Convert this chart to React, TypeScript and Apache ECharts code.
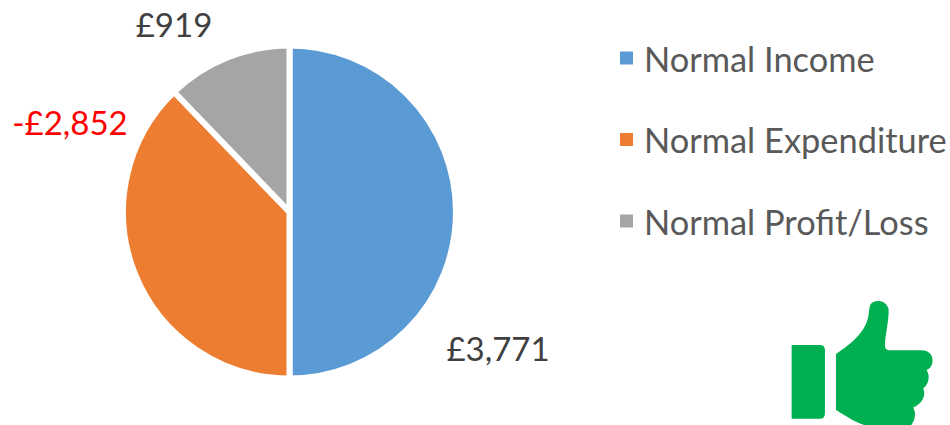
import React, { useEffect, useRef } from "react";
import * as echarts from "echarts";

const categories = ["Normal Income", "Normal Expenditure", "Normal Profit/Loss"];
const values = [3771, 2852, 919];
const labels = ["£3,771", "-£2,852", "£919"];
const colors = ["#5B9BD5", "#ED7D31", "#A5A5A5"];
const labelColors = ["#404040", "#FF0000", "#404040"];
const labelCenters = [[498, 348], [70, 122], [174, 24]];

const FONT = "Lato, Carlito, Calibri, sans-serif";
const HAND =
  "M198 207 C240 178 285 145 295 95 C299 75 298 60 305 55 C318 42 350 46 356 72 C358 100 348 140 345 178 C345 192 350 196 362 196 L455 196 C478 196 490 212 488 230 C487 245 478 252 470 256 C480 268 480 295 460 311 C468 325 462 355 430 368 C440 385 436 410 420 425 L300 425 C270 420 230 395 198 375 Z";
const CUFF =
  "M65 180 L150 180 C160 180 165 186 165 195 L165 387 C165 396 160 402 150 402 L65 402 Z";

echarts.graphic.registerShape("thumbHand", echarts.graphic.extendPath(HAND, {}) as any);
echarts.graphic.registerShape("thumbCuff", echarts.graphic.extendPath(CUFF, {}) as any);

export default function App() {
  const ref = useRef<HTMLDivElement>(null);
  useEffect(() => {
    document.body.style.margin = "0";
    const chart = echarts.init(ref.current!, undefined, { renderer: "svg" });
    chart.setOption({
      animation: false,
      backgroundColor: "#ffffff",
      textStyle: { fontFamily: FONT },
      legend: {
        orient: "vertical",
        left: 613,
        top: 28,
        icon: "rect",
        itemWidth: 15,
        itemHeight: 15,
        itemGap: 31.5,
        data: categories,
        textStyle: { fontSize: 34.4, color: "#595959", fontFamily: FONT, padding: [0, 0, 0, 5], lineHeight: 50 },
      },
      series: [
        {
          type: "pie",
          center: [289.5, 212],
          radius: [0, 166.5],
          startAngle: 90,
          clockwise: true,
          avoidLabelOverlap: false,
          itemStyle: { borderColor: "#ffffff", borderWidth: 6 },
          labelLine: { show: false },
          label: { show: true, position: "outside", fontFamily: FONT, fontSize: 33 },
          labelLayout: (params: any) => ({
            x: labelCenters[params.dataIndex][0],
            y: labelCenters[params.dataIndex][1],
            align: "center",
            verticalAlign: "middle",
          }),
          data: categories.map((name, i) => ({
            name,
            value: values[i],
            itemStyle: { color: colors[i] },
            label: { formatter: labels[i], color: labelColors[i] },
          })),
        },
      ],
      graphic: [
        { type: "thumbHand", x: 770, y: 285, scaleX: 1 / 3, scaleY: 1 / 3, style: { fill: "#00B050" } },
        { type: "thumbCuff", x: 770, y: 285, scaleX: 1 / 3, scaleY: 1 / 3, style: { fill: "#00B050" } },
      ],
    });
    return () => chart.dispose();
  }, []);
  return <div ref={ref} style={{ width: 950, height: 425 }} />;
}
